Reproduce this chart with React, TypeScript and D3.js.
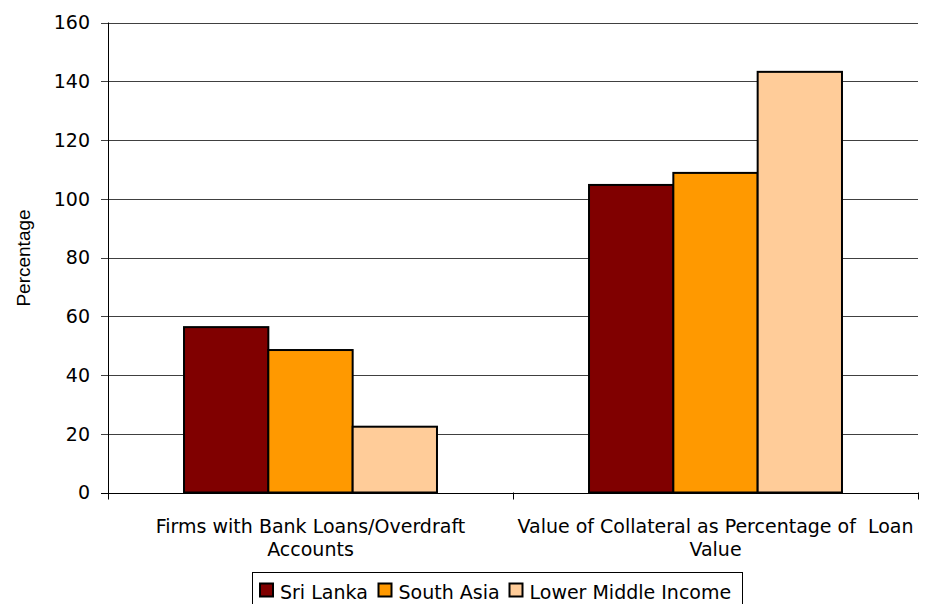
import React from "react";
import * as d3 from "d3";

const categories: string[][] = [
  ["Firms with Bank Loans/Overdraft", "Accounts"],
  ["Value of Collateral as Percentage of  Loan", "Value"],
];
const seriesNames = ["Sri Lanka", "South Asia", "Lower Middle Income"];
const sriLanka = [56.3, 104.7];
const southAsia = [48.5, 108.8];
const lowerMiddleIncome = [22.4, 143.2];
const seriesColors = ["#800000", "#FF9900", "#FFCC99"];
const yTicks = [0, 20, 40, 60, 80, 100, 120, 140, 160];
const yTitle = "Percentage";

const W = 933;
const H = 604;
const left = 108;
const right = 918;
const top = 22.5;
const bottom = 492.5;
const FONT = "'DejaVu Sans', Verdana, sans-serif";
const FS = 19;

export default function App() {
  const series = [sriLanka, southAsia, lowerMiddleIncome];
  const catKeys = categories.map((_, i) => String(i));
  const x0 = d3.scaleBand<string>().domain(catKeys).range([left, right]).padding(0);
  const bw = x0.bandwidth();
  const x1 = d3
    .scaleBand<string>()
    .domain(seriesNames)
    .range([bw * 0.1877, bw * (1 - 0.1877)])
    .padding(0);
  const y = d3.scaleLinear().domain([0, 160]).range([bottom, top]);

  const legendItems = [
    { name: seriesNames[0], mx: 259, tx: 280 },
    { name: seriesNames[1], mx: 377.5, tx: 398.5 },
    { name: seriesNames[2], mx: 508.5, tx: 529.5 },
  ];

  return (
    <svg
      width={W}
      height={H}
      style={{ position: "absolute", left: 0, top: 0, background: "#fff" }}
      fontFamily={FONT}
    >
      {/* gridlines */}
      {yTicks.map((t) => (
        <line
          key={"g" + t}
          x1={left - 7}
          x2={right}
          y1={Math.round(y(t)) + 0.5}
          y2={Math.round(y(t)) + 0.5}
          stroke={t === 0 ? "#000" : "#404040"}
          strokeWidth={1}
        />
      ))}
      {/* y tick labels */}
      {yTicks.map((t) => (
        <text
          key={"l" + t}
          x={90}
          y={y(t)}
          dy="0.36em"
          textAnchor="end"
          fontSize={FS}
          fill="#000"
        >
          {t}
        </text>
      ))}
      {/* y axis line */}
      <line x1={left + 0.5} x2={left + 0.5} y1={top} y2={bottom + 0.5} stroke="#000" strokeWidth={1} />
      {/* x ticks */}
      {[left, ...catKeys.map((k) => (x0(k) as number) + bw)].map((px, i) => (
        <line
          key={"xt" + i}
          x1={Math.round(px) + 0.5}
          x2={Math.round(px) + 0.5}
          y1={bottom}
          y2={bottom + 7}
          stroke="#000"
          strokeWidth={1}
        />
      ))}
      {/* bars */}
      {catKeys.map((k, ci) =>
        series.map((s, si) => {
          const bx = (x0(k) as number) + (x1(seriesNames[si]) as number);
          const by = y(s[ci]);
          return (
            <rect
              key={k + "-" + si}
              x={bx}
              y={by}
              width={x1.bandwidth()}
              height={y(0) - by}
              fill={seriesColors[si]}
              stroke="#000"
              strokeWidth={2}
            />
          );
        })
      )}
      {/* category labels */}
      {catKeys.map((k, ci) => {
        const cx = (x0(k) as number) + bw / 2;
        return (
          <text
            key={"c" + k}
            x={cx}
            textAnchor="middle"
            fontSize={FS}
            fill="#000"
            style={{ whiteSpace: "pre" }}
          >
            {categories[ci].map((line, li) => (
              <tspan key={li} x={cx} y={533 + li * 23}>
                {line}
              </tspan>
            ))}
          </text>
        );
      })}
      {/* y title */}
      <text
        transform={`translate(30,258) rotate(-90)`}
        textAnchor="middle"
        fontFamily="'Liberation Sans', Arial, sans-serif"
        fontSize={FS}
        fill="#000"
      >
        {yTitle}
      </text>
      {/* legend */}
      <rect x={252.5} y={572.5} width={490} height={40} fill="#fff" stroke="#000" strokeWidth={1} />
      {legendItems.map((it, i) => (
        <g key={"lg" + i}>
          <rect x={it.mx + 1} y={583.5} width={13} height={13} fill={seriesColors[i]} stroke="#000" strokeWidth={2} />
          <text x={it.tx} y={599} fontSize={FS} fill="#000">
            {it.name}
          </text>
        </g>
      ))}
    </svg>
  );
}
